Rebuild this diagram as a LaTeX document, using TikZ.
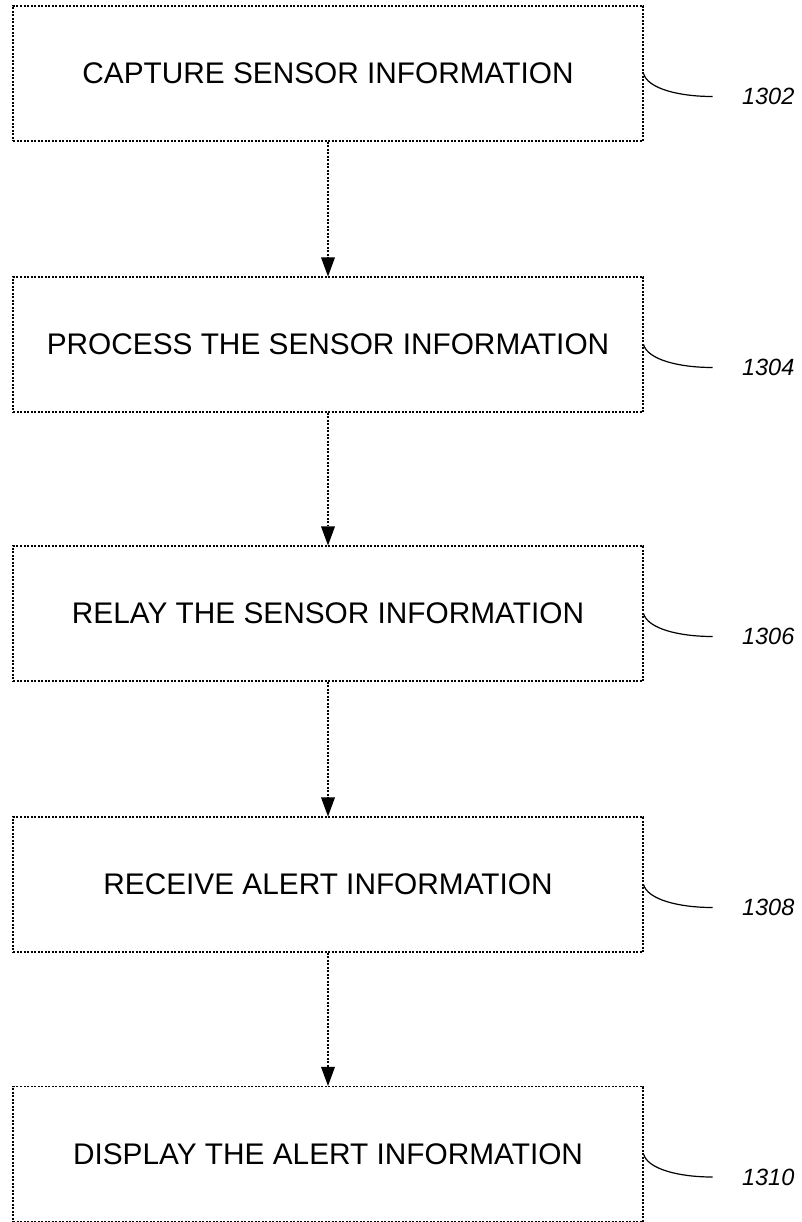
\documentclass[tikz,border=0pt]{standalone}
\usepackage{fontspec}
\setmainfont{Liberation Sans}
\usetikzlibrary{arrows.meta,calc}
\begin{document}
\begin{tikzpicture}[x=1pt,y=-1pt,
  stepbox/.style={draw, line width=1.1pt, dash pattern=on 2pt off 1.5pt, minimum width=630pt, minimum height=135pt, inner sep=0pt, font=\fontsize{29.8}{34}\selectfont},
  flow/.style={line width=1.1pt, dash pattern=on 2pt off 1.5pt, -{Triangle[length=19pt,width=14pt,line width=0pt]}},
  leader/.style={line width=1.2pt},
  reflabel/.style={font=\fontsize{23.5}{27}\itshape\selectfont}]
\useasboundingbox (0,0) rectangle (801,1222);
\node[stepbox] (b1) at (328,73.5) {CAPTURE SENSOR INFORMATION};
\node[stepbox] (b2) at (328,344.5) {PROCESS THE SENSOR INFORMATION};
\node[stepbox] (b3) at (328,613.5) {RELAY THE SENSOR INFORMATION};
\node[stepbox] (b4) at (328,884.5) {RECEIVE ALERT INFORMATION};
\node[stepbox] (b5) at (328,1154) {DISPLAY THE ALERT INFORMATION};
\draw[flow] (b1) -- (b2);
\draw[flow] (b2) -- (b3);
\draw[flow] (b3) -- (b4);
\draw[flow] (b4) -- (b5);
\foreach \b/\n in {b1/1302,b2/1304,b3/1306,b4/1308,b5/1310}{
  \coordinate (e\b) at ($(\b.east)+(69,23)$);
  \draw[leader] (\b.east) .. controls ($(\b.east)+(4,15)$) and ($(\b.east)+(35,23)$) .. (e\b);
  \node[reflabel, anchor=west] (l\b) at ($(e\b)+(26,0)$) {\n};
}
\end{tikzpicture}
\end{document}
